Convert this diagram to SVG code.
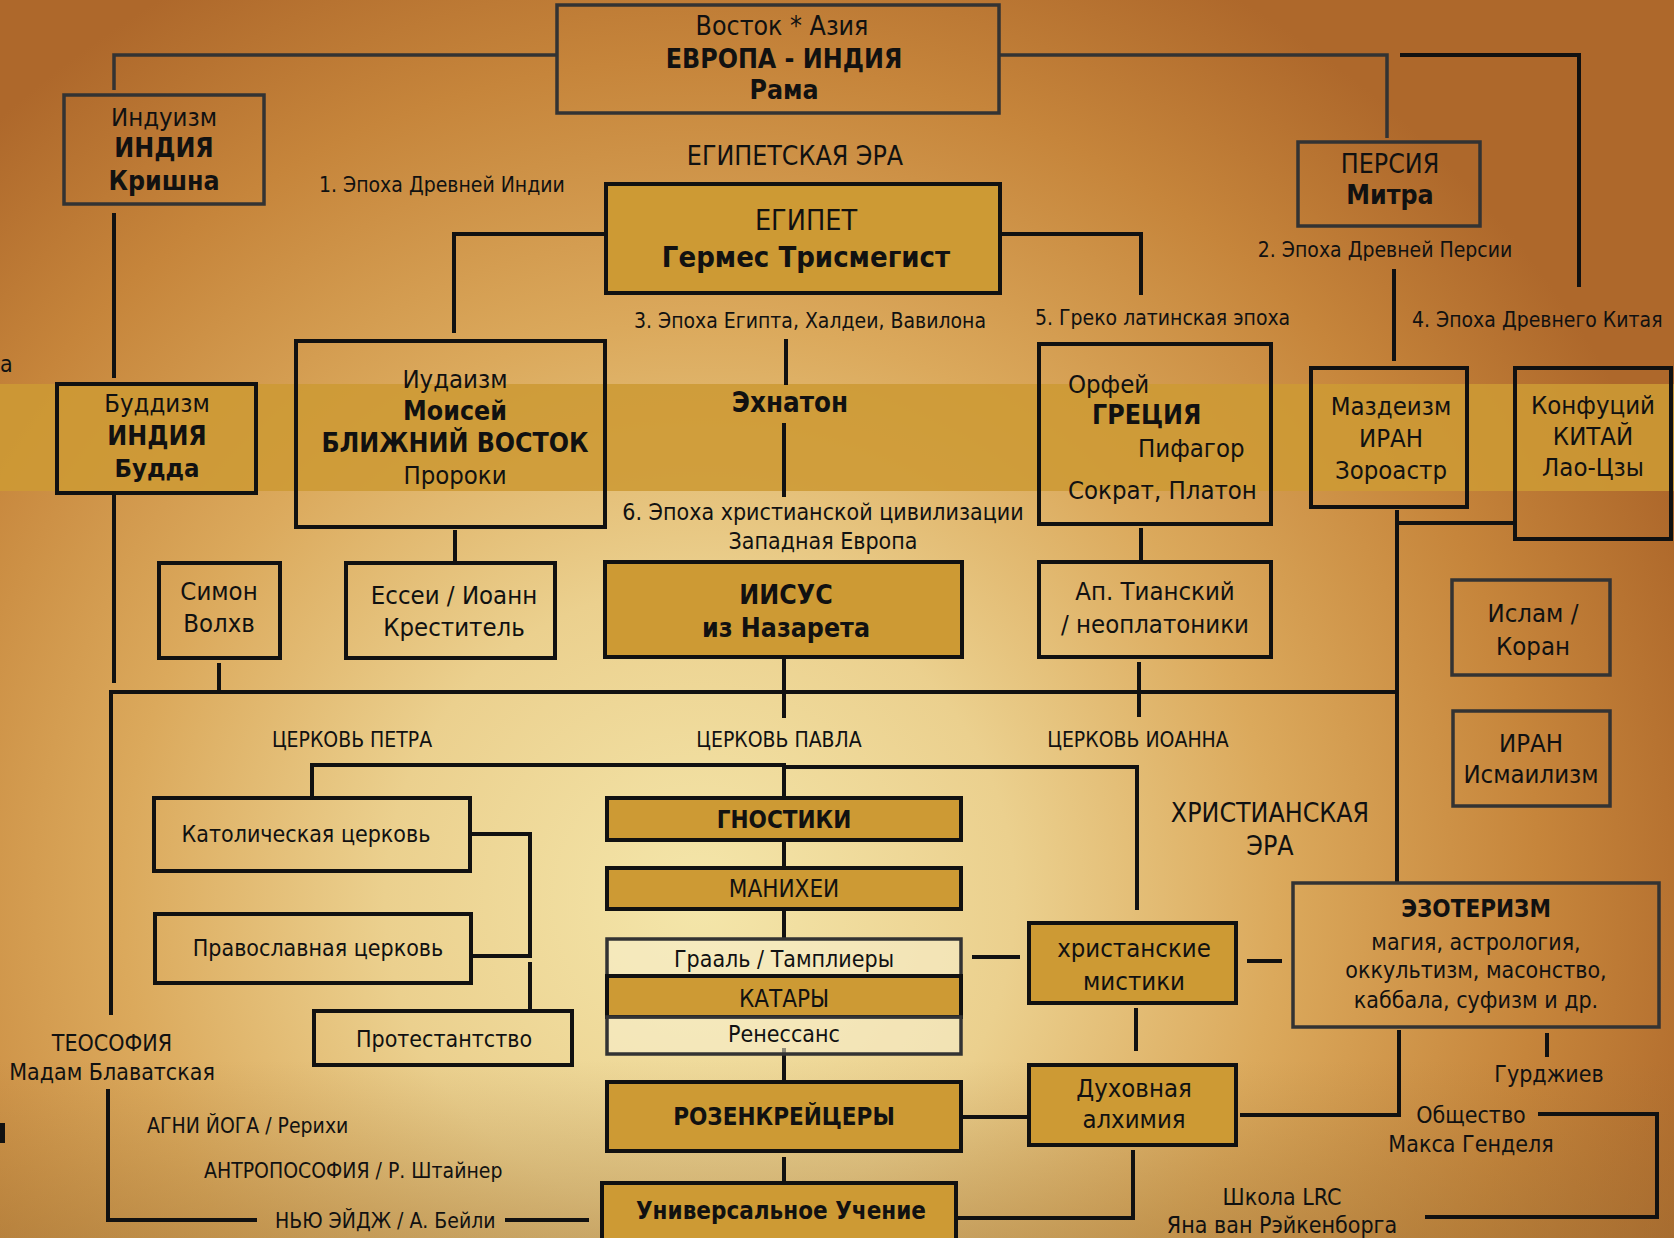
<svg xmlns="http://www.w3.org/2000/svg" width="1674" height="1238" viewBox="0 0 1674 1238">
<defs>
<radialGradient id="bg" gradientUnits="userSpaceOnUse" cx="700" cy="900" r="1050">
<stop offset="0" stop-color="#F4E6AA"/>
<stop offset="0.3" stop-color="#EBD08E"/>
<stop offset="0.55" stop-color="#DBA95C"/>
<stop offset="0.8" stop-color="#C6853B"/>
<stop offset="1" stop-color="#AE682B"/>
</radialGradient>
<linearGradient id="bottomShade" gradientUnits="userSpaceOnUse" x1="0" y1="1060" x2="0" y2="1238">
<stop offset="0" stop-color="#9A7035" stop-opacity="0"/>
<stop offset="1" stop-color="#9A7035" stop-opacity="0.4"/>
</linearGradient>
<style>
.box{fill:none;stroke:#111;stroke-width:4}
.boxg{fill:none;stroke:#333;stroke-width:3.5}
.gold{fill:#CD9A34}
.cream{fill:#F8F0D2;fill-opacity:0.55}
.ln{fill:none;stroke:#111;stroke-width:4}
.lg{fill:none;stroke:#333;stroke-width:3.5}
text{font-family:"DejaVu Sans Condensed","DejaVu Sans",sans-serif;fill:#111;text-anchor:middle}
.s25{font-size:25.5px}
.s26{font-size:26.5px}
.s24{font-size:24px}
.s23{font-size:23px}
.s21{font-size:21px}
.b{font-weight:bold}
.st{text-anchor:start}
</style>
</defs>
<rect width="1674" height="1238" fill="url(#bg)"/>
<rect x="0" y="1060" width="1674" height="178" fill="url(#bottomShade)"/>
<rect x="0" y="384" width="1674" height="107" fill="#CD9A34" fill-opacity="0.88"/>
<text class="s23 st" x="0" y="372">а</text>
<rect x="0" y="1123" width="5" height="20" fill="#111"/>

<g id="connectors">
<path class="lg" d="M557,55 H114 V90"/>
<path class="lg" d="M999,55 H1387 V138"/>
<path class="ln" d="M1400,55 H1579 V287"/>
<path class="ln" d="M114,213 V378"/>
<path class="ln" d="M606,234 H454 V333"/>
<path class="ln" d="M1000,234 H1141 V295"/>
<path class="ln" d="M786,339 V385"/>
<path class="ln" d="M784,423 V497"/>
<path class="ln" d="M1394,269 V361"/>
<path class="ln" d="M114,495 V683"/>
<path class="ln" d="M111,1015 V692 H1397"/>
<path class="ln" d="M1397,510 V882"/>
<path class="ln" d="M1398,523 H1515"/>
<path class="ln" d="M219,663 V692"/>
<path class="ln" d="M455,530 V562"/>
<path class="ln" d="M1141,528 V560"/>
<path class="ln" d="M784,657 V718"/>
<path class="ln" d="M1139,662 V717"/>
<path class="ln" d="M312,797 V765 H784 V798"/>
<path class="ln" d="M784,767 H1137 V910"/>
<path class="ln" d="M472,834 H530 V956 H473"/>
<path class="ln" d="M530,962 V1010"/>
<path class="ln" d="M108,1089 V1220 H257"/>
<path class="ln" d="M505,1220 H589"/>
<path class="ln" d="M784,840 V868 M784,909 V938 M784,1048 V1082 M784,1157 V1183"/>
<path class="ln" d="M972,957 H1020 M1247,961 H1282"/>
<path class="ln" d="M1136,1008 V1051"/>
<path class="ln" d="M961,1117 H1029"/>
<path class="ln" d="M956,1218 H1133 V1150"/>
<path class="ln" d="M1399,1030 V1115 H1240"/>
<path class="ln" d="M1547,1033 V1057"/>
<path class="ln" d="M1538,1114 H1657 V1217 H1425"/>
</g>

<g id="vostok">
<rect class="boxg" x="557" y="5" width="442" height="108"/>
<text class="s26" x="782" y="35">Восток * Азия</text>
<text class="s26 b" x="784" y="68">ЕВРОПА - ИНДИЯ</text>
<text class="s26 b" x="784" y="99">Рама</text>
</g>
<g id="induizm">
<rect class="boxg" x="64" y="95" width="200" height="109"/>
<text class="s25" x="164" y="126">Индуизм</text>
<text class="s26 b" x="164" y="157">ИНДИЯ</text>
<text class="s26 b" x="164" y="190">Кришна</text>
</g>
<g id="label-epoch1"><text class="s21 st" x="319" y="192">1. Эпоха Древней Индии</text></g>
<g id="label-egypt-era"><text class="s26" x="795" y="165">ЕГИПЕТСКАЯ ЭРА</text></g>
<g id="egypt">
<rect class="box gold" x="606" y="184" width="394" height="109"/>
<text x="806" y="230" style="font-size:28.5px">ЕГИПЕТ</text>
<text class="b" x="806" y="267" style="font-size:29px">Гермес Трисмегист</text>
</g>
<g id="persia">
<rect class="boxg" x="1298" y="142" width="182" height="84"/>
<text class="s26" x="1390" y="173">ПЕРСИЯ</text>
<text class="s26 b" x="1390" y="204">Митра</text>
</g>
<g id="label-epoch2"><text class="s21" x="1385" y="257">2. Эпоха Древней Персии</text></g>
<g id="label-epoch3"><text class="s21" x="810" y="328">3. Эпоха Египта, Халдеи, Вавилона</text></g>
<g id="label-epoch5"><text class="s21 st" x="1035" y="325">5. Греко латинская эпоха</text></g>
<g id="label-epoch4"><text class="s21 st" x="1412" y="327">4. Эпоха Древнего Китая</text></g>
<g id="buddhism">
<rect class="box" x="57" y="384" width="199" height="109"/>
<text class="s25" x="157" y="412">Буддизм</text>
<text class="s26 b" x="157" y="445">ИНДИЯ</text>
<text class="s25 b" x="157" y="477">Будда</text>
</g>
<g id="judaism">
<rect class="box" x="296" y="341" width="309" height="186"/>
<text class="s25" x="455" y="388">Иудаизм</text>
<text class="s26 b" x="455" y="420">Моисей</text>
<text class="s26 b" x="455" y="452">БЛИЖНИЙ ВОСТОК</text>
<text class="s25" x="455" y="484">Пророки</text>
</g>
<g id="akhenaten"><text class="b" x="790" y="412" style="font-size:27.5px">Эхнатон</text></g>
<g id="greece">
<rect class="box" x="1039" y="344" width="232" height="180"/>
<text class="s25 st" x="1068" y="393">Орфей</text>
<text class="s26 b st" x="1092" y="424">ГРЕЦИЯ</text>
<text class="s25 st" x="1138" y="457">Пифагор</text>
<text class="s25 st" x="1068" y="499">Сократ, Платон</text>
</g>
<g id="mazdeism">
<rect class="box" x="1311" y="368" width="156" height="139"/>
<text class="s25" x="1391" y="415">Маздеизм</text>
<text class="s25" x="1391" y="447">ИРАН</text>
<text class="s25" x="1391" y="479">Зороастр</text>
</g>
<g id="confucius">
<rect class="box" x="1515" y="368" width="156" height="171"/>
<text class="s25" x="1593" y="414">Конфуций</text>
<text class="s25" x="1593" y="445">КИТАЙ</text>
<text class="s25" x="1593" y="476">Лао-Цзы</text>
</g>
<g id="label-epoch6">
<text class="s23" x="823" y="520">6. Эпоха христианской цивилизации</text>
<text class="s23" x="823" y="549">Западная Европа</text>
</g>
<g id="simon">
<rect class="box" x="159" y="563" width="121" height="95"/>
<text class="s25" x="219" y="600">Симон</text>
<text class="s25" x="219" y="632">Волхв</text>
</g>
<g id="essenes">
<rect class="box" x="346" y="563" width="209" height="95"/>
<text class="s25" x="454" y="604">Ессеи / Иоанн</text>
<text class="s25" x="454" y="636">Креститель</text>
</g>
<g id="jesus">
<rect class="box gold" x="605" y="562" width="357" height="95"/>
<text class="s26 b" x="786" y="604">ИИСУС</text>
<text class="s26 b" x="786" y="637">из Назарета</text>
</g>
<g id="tyana">
<rect class="box" x="1039" y="562" width="232" height="95"/>
<text class="s25" x="1155" y="600">Ап. Тианский</text>
<text class="s25" x="1155" y="633">/ неоплатоники</text>
</g>
<g id="islam">
<rect class="boxg" x="1452" y="580" width="158" height="95"/>
<text class="s25" x="1533" y="622">Ислам /</text>
<text class="s25" x="1533" y="655">Коран</text>
</g>
<g id="ismailism">
<rect class="boxg" x="1453" y="711" width="157" height="95"/>
<text class="s25" x="1531" y="752">ИРАН</text>
<text class="s25" x="1531" y="783">Исмаилизм</text>
</g>
<g id="church-labels">
<text class="s21" x="352" y="747">ЦЕРКОВЬ ПЕТРА</text>
<text class="s21" x="779" y="747">ЦЕРКОВЬ ПАВЛА</text>
<text class="s21" x="1138" y="747">ЦЕРКОВЬ ИОАННА</text>
</g>
<g id="christian-era">
<text class="s26" x="1270" y="822">ХРИСТИАНСКАЯ</text>
<text class="s26" x="1270" y="855">ЭРА</text>
</g>
<g id="catholic">
<rect class="box" x="154" y="798" width="316" height="73"/>
<text class="s23" x="306" y="842">Католическая церковь</text>
</g>
<g id="orthodox">
<rect class="box" x="155" y="914" width="316" height="69"/>
<text class="s23" x="318" y="956">Православная церковь</text>
</g>
<g id="protestant">
<rect class="box" x="314" y="1011" width="258" height="54"/>
<text class="s23" x="444" y="1047">Протестантство</text>
</g>
<g id="gnostics">
<rect class="box gold" x="607" y="798" width="354" height="42"/>
<text class="s24 b" x="784" y="828">ГНОСТИКИ</text>
</g>
<g id="manichaeans">
<rect class="box gold" x="607" y="868" width="354" height="41"/>
<text class="s24" x="784" y="897">МАНИХЕИ</text>
</g>
<g id="grail">
<rect class="boxg cream" x="607" y="939" width="354" height="37"/>
<text class="s23" x="784" y="967">Грааль / Тамплиеры</text>
</g>
<g id="cathars">
<rect class="box gold" x="607" y="976" width="354" height="41"/>
<text class="s24" x="784" y="1007">КАТАРЫ</text>
</g>
<g id="renaissance">
<rect class="boxg cream" x="607" y="1017" width="354" height="37"/>
<text class="s23" x="784" y="1042">Ренессанс</text>
</g>
<g id="rosicrucians">
<rect class="box gold" x="607" y="1082" width="354" height="69"/>
<text class="s24 b" x="784" y="1125">РОЗЕНКРЕЙЦЕРЫ</text>
</g>
<g id="universal">
<rect class="box gold" x="602" y="1183" width="354" height="70"/>
<text class="s24 b" x="781" y="1219">Универсальное Учение</text>
</g>
<g id="mystics">
<rect class="box gold" x="1029" y="923" width="207" height="80"/>
<text class="s25" x="1134" y="957">христанские</text>
<text class="s25" x="1134" y="990">мистики</text>
</g>
<g id="alchemy">
<rect class="box gold" x="1029" y="1065" width="207" height="80"/>
<text class="s25" x="1134" y="1097">Духовная</text>
<text class="s25" x="1134" y="1128">алхимия</text>
</g>
<g id="esoterism">
<rect class="boxg" x="1293" y="883" width="366" height="144"/>
<text class="s24 b" x="1476" y="917">ЭЗОТЕРИЗМ</text>
<text class="s23" x="1476" y="950">магия, астрология,</text>
<text class="s23" x="1476" y="978">оккультизм, масонство,</text>
<text class="s23" x="1476" y="1008">каббала, суфизм и др.</text>
</g>
<g id="gurdjieff"><text class="s23" x="1549" y="1082">Гурджиев</text></g>
<g id="heindel">
<text class="s23" x="1471" y="1123">Общество</text>
<text class="s23" x="1471" y="1152">Макса Генделя</text>
</g>
<g id="lrc">
<text class="s23" x="1282" y="1205">Школа LRC</text>
<text class="s23" x="1282" y="1233">Яна ван Рэйкенборга</text>
</g>
<g id="theosophy">
<text class="s23" x="112" y="1051">ТЕОСОФИЯ</text>
<text class="s23" x="112" y="1080">Мадам Блаватская</text>
</g>
<g id="agni"><text class="s21 st" x="147" y="1133">АГНИ ЙОГА / Рерихи</text></g>
<g id="anthroposophy"><text class="s21 st" x="204" y="1178">АНТРОПОСОФИЯ / Р. Штайнер</text></g>
<g id="newage"><text class="s21 st" x="275" y="1228">НЬЮ ЭЙДЖ / А. Бейли</text></g>
</svg>
